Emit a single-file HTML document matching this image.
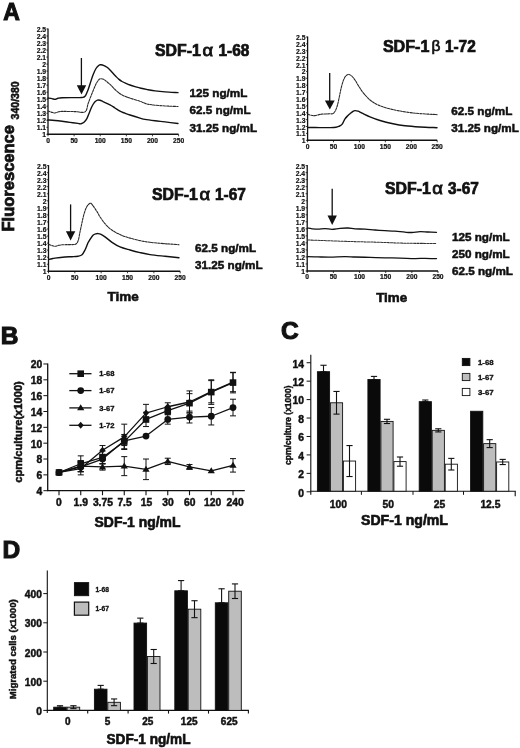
<!DOCTYPE html>
<html><head><meta charset="utf-8"><style>
html,body{margin:0;padding:0;background:#fff;overflow:hidden;width:520px;height:748px;}
svg{display:block;filter:blur(0.3px);}
text{font-family:"Liberation Sans", sans-serif;}
</style></head><body>
<svg width="520" height="748" viewBox="0 0 520 748">
<rect width="520" height="748" fill="#fff"/>
<text x="3.20" y="19.60" font-size="24.5" font-weight="bold" text-anchor="start" textLength="16.60" lengthAdjust="spacingAndGlyphs" fill="#111"  stroke="#111" stroke-width="1.10">A</text>
<line x1="48.00" y1="28.50" x2="48.00" y2="134.80" stroke="#111" stroke-width="1.3" />
<line x1="47.50" y1="134.30" x2="178.60" y2="134.30" stroke="#111" stroke-width="1.6" />
<line x1="46.40" y1="134.30" x2="48.00" y2="134.30" stroke="#111" stroke-width="0.8" />
<text x="46.10" y="137.30" font-size="6.8" font-weight="bold" text-anchor="end" fill="#111"  stroke="#111" stroke-width="0.20">1</text>
<line x1="46.40" y1="127.28" x2="48.00" y2="127.28" stroke="#111" stroke-width="0.8" />
<text x="46.10" y="130.28" font-size="6.8" font-weight="bold" text-anchor="end" fill="#111"  stroke="#111" stroke-width="0.20">1.1</text>
<line x1="46.40" y1="120.26" x2="48.00" y2="120.26" stroke="#111" stroke-width="0.8" />
<text x="46.10" y="123.26" font-size="6.8" font-weight="bold" text-anchor="end" fill="#111"  stroke="#111" stroke-width="0.20">1.2</text>
<line x1="46.40" y1="113.24" x2="48.00" y2="113.24" stroke="#111" stroke-width="0.8" />
<text x="46.10" y="116.24" font-size="6.8" font-weight="bold" text-anchor="end" fill="#111"  stroke="#111" stroke-width="0.20">1.3</text>
<line x1="46.40" y1="106.22" x2="48.00" y2="106.22" stroke="#111" stroke-width="0.8" />
<text x="46.10" y="109.22" font-size="6.8" font-weight="bold" text-anchor="end" fill="#111"  stroke="#111" stroke-width="0.20">1.4</text>
<line x1="46.40" y1="99.20" x2="48.00" y2="99.20" stroke="#111" stroke-width="0.8" />
<text x="46.10" y="102.20" font-size="6.8" font-weight="bold" text-anchor="end" fill="#111"  stroke="#111" stroke-width="0.20">1.5</text>
<line x1="46.40" y1="92.18" x2="48.00" y2="92.18" stroke="#111" stroke-width="0.8" />
<text x="46.10" y="95.18" font-size="6.8" font-weight="bold" text-anchor="end" fill="#111"  stroke="#111" stroke-width="0.20">1.6</text>
<line x1="46.40" y1="85.16" x2="48.00" y2="85.16" stroke="#111" stroke-width="0.8" />
<text x="46.10" y="88.16" font-size="6.8" font-weight="bold" text-anchor="end" fill="#111"  stroke="#111" stroke-width="0.20">1.7</text>
<line x1="46.40" y1="78.14" x2="48.00" y2="78.14" stroke="#111" stroke-width="0.8" />
<text x="46.10" y="81.14" font-size="6.8" font-weight="bold" text-anchor="end" fill="#111"  stroke="#111" stroke-width="0.20">1.8</text>
<line x1="46.40" y1="71.12" x2="48.00" y2="71.12" stroke="#111" stroke-width="0.8" />
<text x="46.10" y="74.12" font-size="6.8" font-weight="bold" text-anchor="end" fill="#111"  stroke="#111" stroke-width="0.20">1.9</text>
<line x1="46.40" y1="64.10" x2="48.00" y2="64.10" stroke="#111" stroke-width="0.8" />
<text x="46.10" y="67.10" font-size="6.8" font-weight="bold" text-anchor="end" fill="#111"  stroke="#111" stroke-width="0.20">2</text>
<line x1="46.40" y1="57.08" x2="48.00" y2="57.08" stroke="#111" stroke-width="0.8" />
<text x="46.10" y="60.08" font-size="6.8" font-weight="bold" text-anchor="end" fill="#111"  stroke="#111" stroke-width="0.20">2.1</text>
<line x1="46.40" y1="50.06" x2="48.00" y2="50.06" stroke="#111" stroke-width="0.8" />
<text x="46.10" y="53.06" font-size="6.8" font-weight="bold" text-anchor="end" fill="#111"  stroke="#111" stroke-width="0.20">2.2</text>
<line x1="46.40" y1="43.04" x2="48.00" y2="43.04" stroke="#111" stroke-width="0.8" />
<text x="46.10" y="46.04" font-size="6.8" font-weight="bold" text-anchor="end" fill="#111"  stroke="#111" stroke-width="0.20">2.3</text>
<line x1="46.40" y1="36.02" x2="48.00" y2="36.02" stroke="#111" stroke-width="0.8" />
<text x="46.10" y="39.02" font-size="6.8" font-weight="bold" text-anchor="end" fill="#111"  stroke="#111" stroke-width="0.20">2.4</text>
<line x1="46.40" y1="29.00" x2="48.00" y2="29.00" stroke="#111" stroke-width="0.8" />
<text x="46.10" y="32.00" font-size="6.8" font-weight="bold" text-anchor="end" fill="#111"  stroke="#111" stroke-width="0.20">2.5</text>
<line x1="48.00" y1="134.30" x2="48.00" y2="136.30" stroke="#111" stroke-width="0.8" />
<text x="48.00" y="142.60" font-size="6.7" font-weight="bold" text-anchor="middle" fill="#111"  stroke="#111" stroke-width="0.22">0</text>
<line x1="74.12" y1="134.30" x2="74.12" y2="136.30" stroke="#111" stroke-width="0.8" />
<text x="74.12" y="142.60" font-size="6.7" font-weight="bold" text-anchor="middle" fill="#111"  stroke="#111" stroke-width="0.22">50</text>
<line x1="100.24" y1="134.30" x2="100.24" y2="136.30" stroke="#111" stroke-width="0.8" />
<text x="100.24" y="142.60" font-size="6.7" font-weight="bold" text-anchor="middle" fill="#111"  stroke="#111" stroke-width="0.22">100</text>
<line x1="126.36" y1="134.30" x2="126.36" y2="136.30" stroke="#111" stroke-width="0.8" />
<text x="126.36" y="142.60" font-size="6.7" font-weight="bold" text-anchor="middle" fill="#111"  stroke="#111" stroke-width="0.22">150</text>
<line x1="152.48" y1="134.30" x2="152.48" y2="136.30" stroke="#111" stroke-width="0.8" />
<text x="152.48" y="142.60" font-size="6.7" font-weight="bold" text-anchor="middle" fill="#111"  stroke="#111" stroke-width="0.22">200</text>
<line x1="178.60" y1="134.30" x2="178.60" y2="136.30" stroke="#111" stroke-width="0.8" />
<text x="178.60" y="142.60" font-size="6.7" font-weight="bold" text-anchor="middle" fill="#111"  stroke="#111" stroke-width="0.22">250</text>
<line x1="307.60" y1="36.50" x2="307.60" y2="140.80" stroke="#111" stroke-width="1.3" />
<line x1="307.10" y1="140.30" x2="437.20" y2="140.30" stroke="#111" stroke-width="1.6" />
<line x1="306.00" y1="140.30" x2="307.60" y2="140.30" stroke="#111" stroke-width="0.8" />
<text x="305.50" y="143.30" font-size="6.8" font-weight="bold" text-anchor="end" fill="#111"  stroke="#111" stroke-width="0.20">1</text>
<line x1="306.00" y1="133.41" x2="307.60" y2="133.41" stroke="#111" stroke-width="0.8" />
<text x="305.50" y="136.41" font-size="6.8" font-weight="bold" text-anchor="end" fill="#111"  stroke="#111" stroke-width="0.20">1.1</text>
<line x1="306.00" y1="126.53" x2="307.60" y2="126.53" stroke="#111" stroke-width="0.8" />
<text x="305.50" y="129.53" font-size="6.8" font-weight="bold" text-anchor="end" fill="#111"  stroke="#111" stroke-width="0.20">1.2</text>
<line x1="306.00" y1="119.64" x2="307.60" y2="119.64" stroke="#111" stroke-width="0.8" />
<text x="305.50" y="122.64" font-size="6.8" font-weight="bold" text-anchor="end" fill="#111"  stroke="#111" stroke-width="0.20">1.3</text>
<line x1="306.00" y1="112.75" x2="307.60" y2="112.75" stroke="#111" stroke-width="0.8" />
<text x="305.50" y="115.75" font-size="6.8" font-weight="bold" text-anchor="end" fill="#111"  stroke="#111" stroke-width="0.20">1.4</text>
<line x1="306.00" y1="105.87" x2="307.60" y2="105.87" stroke="#111" stroke-width="0.8" />
<text x="305.50" y="108.87" font-size="6.8" font-weight="bold" text-anchor="end" fill="#111"  stroke="#111" stroke-width="0.20">1.5</text>
<line x1="306.00" y1="98.98" x2="307.60" y2="98.98" stroke="#111" stroke-width="0.8" />
<text x="305.50" y="101.98" font-size="6.8" font-weight="bold" text-anchor="end" fill="#111"  stroke="#111" stroke-width="0.20">1.6</text>
<line x1="306.00" y1="92.09" x2="307.60" y2="92.09" stroke="#111" stroke-width="0.8" />
<text x="305.50" y="95.09" font-size="6.8" font-weight="bold" text-anchor="end" fill="#111"  stroke="#111" stroke-width="0.20">1.7</text>
<line x1="306.00" y1="85.21" x2="307.60" y2="85.21" stroke="#111" stroke-width="0.8" />
<text x="305.50" y="88.21" font-size="6.8" font-weight="bold" text-anchor="end" fill="#111"  stroke="#111" stroke-width="0.20">1.8</text>
<line x1="306.00" y1="78.32" x2="307.60" y2="78.32" stroke="#111" stroke-width="0.8" />
<text x="305.50" y="81.32" font-size="6.8" font-weight="bold" text-anchor="end" fill="#111"  stroke="#111" stroke-width="0.20">1.9</text>
<line x1="306.00" y1="71.43" x2="307.60" y2="71.43" stroke="#111" stroke-width="0.8" />
<text x="305.50" y="74.43" font-size="6.8" font-weight="bold" text-anchor="end" fill="#111"  stroke="#111" stroke-width="0.20">2</text>
<line x1="306.00" y1="64.55" x2="307.60" y2="64.55" stroke="#111" stroke-width="0.8" />
<text x="305.50" y="67.55" font-size="6.8" font-weight="bold" text-anchor="end" fill="#111"  stroke="#111" stroke-width="0.20">2.1</text>
<line x1="306.00" y1="57.66" x2="307.60" y2="57.66" stroke="#111" stroke-width="0.8" />
<text x="305.50" y="60.66" font-size="6.8" font-weight="bold" text-anchor="end" fill="#111"  stroke="#111" stroke-width="0.20">2.2</text>
<line x1="306.00" y1="50.77" x2="307.60" y2="50.77" stroke="#111" stroke-width="0.8" />
<text x="305.50" y="53.77" font-size="6.8" font-weight="bold" text-anchor="end" fill="#111"  stroke="#111" stroke-width="0.20">2.3</text>
<line x1="306.00" y1="43.89" x2="307.60" y2="43.89" stroke="#111" stroke-width="0.8" />
<text x="305.50" y="46.89" font-size="6.8" font-weight="bold" text-anchor="end" fill="#111"  stroke="#111" stroke-width="0.20">2.4</text>
<line x1="306.00" y1="37.00" x2="307.60" y2="37.00" stroke="#111" stroke-width="0.8" />
<text x="305.50" y="40.00" font-size="6.8" font-weight="bold" text-anchor="end" fill="#111"  stroke="#111" stroke-width="0.20">2.5</text>
<line x1="307.60" y1="140.30" x2="307.60" y2="142.30" stroke="#111" stroke-width="0.8" />
<text x="307.60" y="148.70" font-size="6.7" font-weight="bold" text-anchor="middle" fill="#111"  stroke="#111" stroke-width="0.22">0</text>
<line x1="333.52" y1="140.30" x2="333.52" y2="142.30" stroke="#111" stroke-width="0.8" />
<text x="333.52" y="148.70" font-size="6.7" font-weight="bold" text-anchor="middle" fill="#111"  stroke="#111" stroke-width="0.22">50</text>
<line x1="359.44" y1="140.30" x2="359.44" y2="142.30" stroke="#111" stroke-width="0.8" />
<text x="359.44" y="148.70" font-size="6.7" font-weight="bold" text-anchor="middle" fill="#111"  stroke="#111" stroke-width="0.22">100</text>
<line x1="385.36" y1="140.30" x2="385.36" y2="142.30" stroke="#111" stroke-width="0.8" />
<text x="385.36" y="148.70" font-size="6.7" font-weight="bold" text-anchor="middle" fill="#111"  stroke="#111" stroke-width="0.22">150</text>
<line x1="411.28" y1="140.30" x2="411.28" y2="142.30" stroke="#111" stroke-width="0.8" />
<text x="411.28" y="148.70" font-size="6.7" font-weight="bold" text-anchor="middle" fill="#111"  stroke="#111" stroke-width="0.22">200</text>
<line x1="437.20" y1="140.30" x2="437.20" y2="142.30" stroke="#111" stroke-width="0.8" />
<text x="437.20" y="148.70" font-size="6.7" font-weight="bold" text-anchor="middle" fill="#111"  stroke="#111" stroke-width="0.22">250</text>
<line x1="48.50" y1="165.10" x2="48.50" y2="271.80" stroke="#111" stroke-width="1.3" />
<line x1="48.00" y1="271.30" x2="180.20" y2="271.30" stroke="#111" stroke-width="1.6" />
<line x1="46.90" y1="271.30" x2="48.50" y2="271.30" stroke="#111" stroke-width="0.8" />
<text x="46.50" y="274.30" font-size="6.8" font-weight="bold" text-anchor="end" fill="#111"  stroke="#111" stroke-width="0.20">1</text>
<line x1="46.90" y1="264.25" x2="48.50" y2="264.25" stroke="#111" stroke-width="0.8" />
<text x="46.50" y="267.25" font-size="6.8" font-weight="bold" text-anchor="end" fill="#111"  stroke="#111" stroke-width="0.20">1.1</text>
<line x1="46.90" y1="257.21" x2="48.50" y2="257.21" stroke="#111" stroke-width="0.8" />
<text x="46.50" y="260.21" font-size="6.8" font-weight="bold" text-anchor="end" fill="#111"  stroke="#111" stroke-width="0.20">1.2</text>
<line x1="46.90" y1="250.16" x2="48.50" y2="250.16" stroke="#111" stroke-width="0.8" />
<text x="46.50" y="253.16" font-size="6.8" font-weight="bold" text-anchor="end" fill="#111"  stroke="#111" stroke-width="0.20">1.3</text>
<line x1="46.90" y1="243.11" x2="48.50" y2="243.11" stroke="#111" stroke-width="0.8" />
<text x="46.50" y="246.11" font-size="6.8" font-weight="bold" text-anchor="end" fill="#111"  stroke="#111" stroke-width="0.20">1.4</text>
<line x1="46.90" y1="236.07" x2="48.50" y2="236.07" stroke="#111" stroke-width="0.8" />
<text x="46.50" y="239.07" font-size="6.8" font-weight="bold" text-anchor="end" fill="#111"  stroke="#111" stroke-width="0.20">1.5</text>
<line x1="46.90" y1="229.02" x2="48.50" y2="229.02" stroke="#111" stroke-width="0.8" />
<text x="46.50" y="232.02" font-size="6.8" font-weight="bold" text-anchor="end" fill="#111"  stroke="#111" stroke-width="0.20">1.6</text>
<line x1="46.90" y1="221.97" x2="48.50" y2="221.97" stroke="#111" stroke-width="0.8" />
<text x="46.50" y="224.97" font-size="6.8" font-weight="bold" text-anchor="end" fill="#111"  stroke="#111" stroke-width="0.20">1.7</text>
<line x1="46.90" y1="214.93" x2="48.50" y2="214.93" stroke="#111" stroke-width="0.8" />
<text x="46.50" y="217.93" font-size="6.8" font-weight="bold" text-anchor="end" fill="#111"  stroke="#111" stroke-width="0.20">1.8</text>
<line x1="46.90" y1="207.88" x2="48.50" y2="207.88" stroke="#111" stroke-width="0.8" />
<text x="46.50" y="210.88" font-size="6.8" font-weight="bold" text-anchor="end" fill="#111"  stroke="#111" stroke-width="0.20">1.9</text>
<line x1="46.90" y1="200.83" x2="48.50" y2="200.83" stroke="#111" stroke-width="0.8" />
<text x="46.50" y="203.83" font-size="6.8" font-weight="bold" text-anchor="end" fill="#111"  stroke="#111" stroke-width="0.20">2</text>
<line x1="46.90" y1="193.79" x2="48.50" y2="193.79" stroke="#111" stroke-width="0.8" />
<text x="46.50" y="196.79" font-size="6.8" font-weight="bold" text-anchor="end" fill="#111"  stroke="#111" stroke-width="0.20">2.1</text>
<line x1="46.90" y1="186.74" x2="48.50" y2="186.74" stroke="#111" stroke-width="0.8" />
<text x="46.50" y="189.74" font-size="6.8" font-weight="bold" text-anchor="end" fill="#111"  stroke="#111" stroke-width="0.20">2.2</text>
<line x1="46.90" y1="179.69" x2="48.50" y2="179.69" stroke="#111" stroke-width="0.8" />
<text x="46.50" y="182.69" font-size="6.8" font-weight="bold" text-anchor="end" fill="#111"  stroke="#111" stroke-width="0.20">2.3</text>
<line x1="46.90" y1="172.65" x2="48.50" y2="172.65" stroke="#111" stroke-width="0.8" />
<text x="46.50" y="175.65" font-size="6.8" font-weight="bold" text-anchor="end" fill="#111"  stroke="#111" stroke-width="0.20">2.4</text>
<line x1="46.90" y1="165.60" x2="48.50" y2="165.60" stroke="#111" stroke-width="0.8" />
<text x="46.50" y="168.60" font-size="6.8" font-weight="bold" text-anchor="end" fill="#111"  stroke="#111" stroke-width="0.20">2.5</text>
<line x1="48.50" y1="271.30" x2="48.50" y2="273.30" stroke="#111" stroke-width="0.8" />
<text x="48.50" y="279.50" font-size="6.7" font-weight="bold" text-anchor="middle" fill="#111"  stroke="#111" stroke-width="0.22">0</text>
<line x1="74.84" y1="271.30" x2="74.84" y2="273.30" stroke="#111" stroke-width="0.8" />
<text x="74.84" y="279.50" font-size="6.7" font-weight="bold" text-anchor="middle" fill="#111"  stroke="#111" stroke-width="0.22">50</text>
<line x1="101.18" y1="271.30" x2="101.18" y2="273.30" stroke="#111" stroke-width="0.8" />
<text x="101.18" y="279.50" font-size="6.7" font-weight="bold" text-anchor="middle" fill="#111"  stroke="#111" stroke-width="0.22">100</text>
<line x1="127.52" y1="271.30" x2="127.52" y2="273.30" stroke="#111" stroke-width="0.8" />
<text x="127.52" y="279.50" font-size="6.7" font-weight="bold" text-anchor="middle" fill="#111"  stroke="#111" stroke-width="0.22">150</text>
<line x1="153.86" y1="271.30" x2="153.86" y2="273.30" stroke="#111" stroke-width="0.8" />
<text x="153.86" y="279.50" font-size="6.7" font-weight="bold" text-anchor="middle" fill="#111"  stroke="#111" stroke-width="0.22">200</text>
<line x1="180.20" y1="271.30" x2="180.20" y2="273.30" stroke="#111" stroke-width="0.8" />
<text x="180.20" y="279.50" font-size="6.7" font-weight="bold" text-anchor="middle" fill="#111"  stroke="#111" stroke-width="0.22">250</text>
<line x1="307.20" y1="165.10" x2="307.20" y2="271.50" stroke="#111" stroke-width="1.3" />
<line x1="306.70" y1="271.00" x2="438.00" y2="271.00" stroke="#111" stroke-width="1.6" />
<line x1="305.60" y1="271.00" x2="307.20" y2="271.00" stroke="#111" stroke-width="0.8" />
<text x="305.10" y="274.00" font-size="6.8" font-weight="bold" text-anchor="end" fill="#111"  stroke="#111" stroke-width="0.20">1</text>
<line x1="305.60" y1="263.97" x2="307.20" y2="263.97" stroke="#111" stroke-width="0.8" />
<text x="305.10" y="266.97" font-size="6.8" font-weight="bold" text-anchor="end" fill="#111"  stroke="#111" stroke-width="0.20">1.1</text>
<line x1="305.60" y1="256.95" x2="307.20" y2="256.95" stroke="#111" stroke-width="0.8" />
<text x="305.10" y="259.95" font-size="6.8" font-weight="bold" text-anchor="end" fill="#111"  stroke="#111" stroke-width="0.20">1.2</text>
<line x1="305.60" y1="249.92" x2="307.20" y2="249.92" stroke="#111" stroke-width="0.8" />
<text x="305.10" y="252.92" font-size="6.8" font-weight="bold" text-anchor="end" fill="#111"  stroke="#111" stroke-width="0.20">1.3</text>
<line x1="305.60" y1="242.89" x2="307.20" y2="242.89" stroke="#111" stroke-width="0.8" />
<text x="305.10" y="245.89" font-size="6.8" font-weight="bold" text-anchor="end" fill="#111"  stroke="#111" stroke-width="0.20">1.4</text>
<line x1="305.60" y1="235.87" x2="307.20" y2="235.87" stroke="#111" stroke-width="0.8" />
<text x="305.10" y="238.87" font-size="6.8" font-weight="bold" text-anchor="end" fill="#111"  stroke="#111" stroke-width="0.20">1.5</text>
<line x1="305.60" y1="228.84" x2="307.20" y2="228.84" stroke="#111" stroke-width="0.8" />
<text x="305.10" y="231.84" font-size="6.8" font-weight="bold" text-anchor="end" fill="#111"  stroke="#111" stroke-width="0.20">1.6</text>
<line x1="305.60" y1="221.81" x2="307.20" y2="221.81" stroke="#111" stroke-width="0.8" />
<text x="305.10" y="224.81" font-size="6.8" font-weight="bold" text-anchor="end" fill="#111"  stroke="#111" stroke-width="0.20">1.7</text>
<line x1="305.60" y1="214.79" x2="307.20" y2="214.79" stroke="#111" stroke-width="0.8" />
<text x="305.10" y="217.79" font-size="6.8" font-weight="bold" text-anchor="end" fill="#111"  stroke="#111" stroke-width="0.20">1.8</text>
<line x1="305.60" y1="207.76" x2="307.20" y2="207.76" stroke="#111" stroke-width="0.8" />
<text x="305.10" y="210.76" font-size="6.8" font-weight="bold" text-anchor="end" fill="#111"  stroke="#111" stroke-width="0.20">1.9</text>
<line x1="305.60" y1="200.73" x2="307.20" y2="200.73" stroke="#111" stroke-width="0.8" />
<text x="305.10" y="203.73" font-size="6.8" font-weight="bold" text-anchor="end" fill="#111"  stroke="#111" stroke-width="0.20">2</text>
<line x1="305.60" y1="193.71" x2="307.20" y2="193.71" stroke="#111" stroke-width="0.8" />
<text x="305.10" y="196.71" font-size="6.8" font-weight="bold" text-anchor="end" fill="#111"  stroke="#111" stroke-width="0.20">2.1</text>
<line x1="305.60" y1="186.68" x2="307.20" y2="186.68" stroke="#111" stroke-width="0.8" />
<text x="305.10" y="189.68" font-size="6.8" font-weight="bold" text-anchor="end" fill="#111"  stroke="#111" stroke-width="0.20">2.2</text>
<line x1="305.60" y1="179.65" x2="307.20" y2="179.65" stroke="#111" stroke-width="0.8" />
<text x="305.10" y="182.65" font-size="6.8" font-weight="bold" text-anchor="end" fill="#111"  stroke="#111" stroke-width="0.20">2.3</text>
<line x1="305.60" y1="172.63" x2="307.20" y2="172.63" stroke="#111" stroke-width="0.8" />
<text x="305.10" y="175.63" font-size="6.8" font-weight="bold" text-anchor="end" fill="#111"  stroke="#111" stroke-width="0.20">2.4</text>
<line x1="305.60" y1="165.60" x2="307.20" y2="165.60" stroke="#111" stroke-width="0.8" />
<text x="305.10" y="168.60" font-size="6.8" font-weight="bold" text-anchor="end" fill="#111"  stroke="#111" stroke-width="0.20">2.5</text>
<line x1="307.20" y1="271.00" x2="307.20" y2="273.00" stroke="#111" stroke-width="0.8" />
<text x="307.20" y="279.30" font-size="6.7" font-weight="bold" text-anchor="middle" fill="#111"  stroke="#111" stroke-width="0.22">0</text>
<line x1="333.36" y1="271.00" x2="333.36" y2="273.00" stroke="#111" stroke-width="0.8" />
<text x="333.36" y="279.30" font-size="6.7" font-weight="bold" text-anchor="middle" fill="#111"  stroke="#111" stroke-width="0.22">50</text>
<line x1="359.52" y1="271.00" x2="359.52" y2="273.00" stroke="#111" stroke-width="0.8" />
<text x="359.52" y="279.30" font-size="6.7" font-weight="bold" text-anchor="middle" fill="#111"  stroke="#111" stroke-width="0.22">100</text>
<line x1="385.68" y1="271.00" x2="385.68" y2="273.00" stroke="#111" stroke-width="0.8" />
<text x="385.68" y="279.30" font-size="6.7" font-weight="bold" text-anchor="middle" fill="#111"  stroke="#111" stroke-width="0.22">150</text>
<line x1="411.84" y1="271.00" x2="411.84" y2="273.00" stroke="#111" stroke-width="0.8" />
<text x="411.84" y="279.30" font-size="6.7" font-weight="bold" text-anchor="middle" fill="#111"  stroke="#111" stroke-width="0.22">200</text>
<line x1="438.00" y1="271.00" x2="438.00" y2="273.00" stroke="#111" stroke-width="0.8" />
<text x="438.00" y="279.30" font-size="6.7" font-weight="bold" text-anchor="middle" fill="#111"  stroke="#111" stroke-width="0.22">250</text>
<path d="M48.00,98.00 C48.67,98.10 50.83,98.37 52.00,98.60 C53.17,98.83 54.00,99.45 55.00,99.40 C56.00,99.35 56.83,98.58 58.00,98.30 C59.17,98.02 59.17,97.82 62.00,97.70 C64.83,97.58 71.67,97.63 75.00,97.60 C78.33,97.57 80.33,97.72 82.00,97.50 C83.67,97.28 84.00,97.55 85.00,96.30 C86.00,95.05 87.17,92.05 88.00,90.00 C88.83,87.95 89.17,86.50 90.00,84.00 C90.83,81.50 92.00,77.58 93.00,75.00 C94.00,72.42 95.00,70.13 96.00,68.50 C97.00,66.87 98.17,65.82 99.00,65.20 C99.83,64.58 100.17,64.73 101.00,64.80 C101.83,64.87 103.00,65.18 104.00,65.60 C105.00,66.02 106.00,66.57 107.00,67.30 C108.00,68.03 109.00,69.00 110.00,70.00 C111.00,71.00 112.00,72.22 113.00,73.30 C114.00,74.38 115.00,75.48 116.00,76.50 C117.00,77.52 118.00,78.57 119.00,79.40 C120.00,80.23 120.83,80.83 122.00,81.50 C123.17,82.17 124.67,82.82 126.00,83.40 C127.33,83.98 128.50,84.47 130.00,85.00 C131.50,85.53 133.17,86.05 135.00,86.60 C136.83,87.15 138.83,87.78 141.00,88.30 C143.17,88.82 145.67,89.27 148.00,89.70 C150.33,90.13 152.17,90.53 155.00,90.90 C157.83,91.27 161.17,91.62 165.00,91.90 C168.83,92.18 175.83,92.48 178.00,92.60" fill="none" stroke="#111" stroke-width="1.4" stroke-linejoin="round" stroke-linecap="round"/>
<path d="M48.00,111.00 C48.67,111.23 50.83,112.07 52.00,112.40 C53.17,112.73 54.00,113.07 55.00,113.00 C56.00,112.93 56.83,112.27 58.00,112.00 C59.17,111.73 59.17,111.47 62.00,111.40 C64.83,111.33 71.17,111.52 75.00,111.60 C78.83,111.68 82.83,113.17 85.00,111.90 C87.17,110.63 87.17,106.23 88.00,104.00 C88.83,101.77 89.17,100.67 90.00,98.50 C90.83,96.33 92.00,93.42 93.00,91.00 C94.00,88.58 95.00,85.92 96.00,84.00 C97.00,82.08 98.17,80.37 99.00,79.50 C99.83,78.63 100.17,78.78 101.00,78.80 C101.83,78.82 102.50,78.67 104.00,79.60 C105.50,80.53 108.17,82.75 110.00,84.40 C111.83,86.05 113.33,87.95 115.00,89.50 C116.67,91.05 118.33,92.57 120.00,93.70 C121.67,94.83 123.33,95.57 125.00,96.30 C126.67,97.03 127.50,97.27 130.00,98.10 C132.50,98.93 137.33,100.37 140.00,101.30 C142.67,102.23 144.00,103.12 146.00,103.70 C148.00,104.28 149.67,104.48 152.00,104.80 C154.33,105.12 157.00,105.37 160.00,105.60 C163.00,105.83 167.00,106.05 170.00,106.20 C173.00,106.35 176.67,106.45 178.00,106.50" fill="none" stroke="#2a2a2a" stroke-width="1.1" stroke-linejoin="round" stroke-linecap="round" stroke-dasharray="2.2,1.1"/>
<path d="M48.00,120.00 C49.17,120.08 52.67,120.28 55.00,120.50 C57.33,120.72 59.50,120.98 62.00,121.30 C64.50,121.62 67.33,122.05 70.00,122.40 C72.67,122.75 76.17,123.17 78.00,123.40 C79.83,123.63 80.00,123.98 81.00,123.80 C82.00,123.62 83.00,123.22 84.00,122.30 C85.00,121.38 86.17,119.77 87.00,118.30 C87.83,116.83 88.33,115.13 89.00,113.50 C89.67,111.87 90.33,110.00 91.00,108.50 C91.67,107.00 92.33,105.63 93.00,104.50 C93.67,103.37 94.25,102.43 95.00,101.70 C95.75,100.97 96.67,100.33 97.50,100.10 C98.33,99.87 99.08,100.05 100.00,100.30 C100.92,100.55 101.33,100.85 103.00,101.60 C104.67,102.35 108.00,103.73 110.00,104.80 C112.00,105.87 113.33,106.93 115.00,108.00 C116.67,109.07 118.33,110.33 120.00,111.20 C121.67,112.07 123.33,112.57 125.00,113.20 C126.67,113.83 127.50,114.18 130.00,115.00 C132.50,115.82 137.50,117.37 140.00,118.10 C142.50,118.83 142.50,118.95 145.00,119.40 C147.50,119.85 151.67,120.38 155.00,120.80 C158.33,121.22 161.17,121.45 165.00,121.90 C168.83,122.35 175.83,123.23 178.00,123.50" fill="none" stroke="#111" stroke-width="1.4" stroke-linejoin="round" stroke-linecap="round"/>
<line x1="81.40" y1="58.00" x2="81.40" y2="86.50" stroke="#111" stroke-width="1.3" />
<path d="M76.80,85.20 L86.20,85.20 L81.50,94.40 Z" fill="#111"/>
<text x="155.00" y="55.80" font-size="16" font-weight="bold" text-anchor="start" textLength="45.80" lengthAdjust="spacingAndGlyphs" fill="#111"  stroke="#111" stroke-width="0.72">SDF-1</text>
<text x="202.60" y="55.80" font-size="17.0" font-weight="normal" text-anchor="start" textLength="10.60" lengthAdjust="spacingAndGlyphs" font-family='"Liberation Serif", serif' fill="#111"  stroke="#111" stroke-width="0.85">α</text>
<text x="218.50" y="55.80" font-size="16" font-weight="bold" text-anchor="start" textLength="30.80" lengthAdjust="spacingAndGlyphs" fill="#111"  stroke="#111" stroke-width="0.72">1-68</text>
<text x="189.60" y="96.90" font-size="11.7" font-weight="bold" text-anchor="start" fill="#111"  stroke="#111" stroke-width="0.53">125 ng/mL</text>
<text x="189.60" y="113.80" font-size="11.7" font-weight="bold" text-anchor="start" fill="#111"  stroke="#111" stroke-width="0.53">62.5 ng/mL</text>
<text x="189.60" y="131.50" font-size="11.7" font-weight="bold" text-anchor="start" fill="#111"  stroke="#111" stroke-width="0.53">31.25 ng/mL</text>
<path d="M308.00,114.40 C308.50,114.55 309.83,115.10 311.00,115.30 C312.17,115.50 313.67,115.72 315.00,115.60 C316.33,115.48 317.83,114.85 319.00,114.60 C320.17,114.35 320.17,114.23 322.00,114.10 C323.83,113.97 328.17,113.88 330.00,113.80 C331.83,113.72 332.08,114.15 333.00,113.60 C333.92,113.05 334.75,111.93 335.50,110.50 C336.25,109.07 336.83,107.42 337.50,105.00 C338.17,102.58 338.92,98.72 339.50,96.00 C340.08,93.28 340.42,91.12 341.00,88.70 C341.58,86.28 342.33,83.45 343.00,81.50 C343.67,79.55 344.33,78.08 345.00,77.00 C345.67,75.92 346.33,75.43 347.00,75.00 C347.67,74.57 348.17,74.18 349.00,74.40 C349.83,74.62 351.00,75.37 352.00,76.30 C353.00,77.23 354.00,78.55 355.00,80.00 C356.00,81.45 356.83,83.13 358.00,85.00 C359.17,86.87 360.67,89.37 362.00,91.20 C363.33,93.03 364.67,94.53 366.00,96.00 C367.33,97.47 368.67,98.87 370.00,100.00 C371.33,101.13 372.67,101.97 374.00,102.80 C375.33,103.63 376.17,104.22 378.00,105.00 C379.83,105.78 382.67,106.77 385.00,107.50 C387.33,108.23 389.50,108.82 392.00,109.40 C394.50,109.98 397.00,110.47 400.00,111.00 C403.00,111.53 406.67,112.17 410.00,112.60 C413.33,113.03 415.50,113.27 420.00,113.60 C424.50,113.93 434.17,114.43 437.00,114.60" fill="none" stroke="#2a2a2a" stroke-width="1.1" stroke-linejoin="round" stroke-linecap="round" stroke-dasharray="2.2,1.1"/>
<path d="M308.00,127.50 C310.00,127.52 316.33,127.58 320.00,127.60 C323.67,127.62 327.33,127.65 330.00,127.60 C332.67,127.55 334.50,127.52 336.00,127.30 C337.50,127.08 338.00,126.78 339.00,126.30 C340.00,125.82 341.00,125.65 342.00,124.40 C343.00,123.15 344.00,120.28 345.00,118.80 C346.00,117.32 347.17,116.35 348.00,115.50 C348.83,114.65 349.17,114.40 350.00,113.70 C350.83,113.00 352.17,111.82 353.00,111.30 C353.83,110.78 354.17,110.62 355.00,110.60 C355.83,110.58 356.83,110.78 358.00,111.20 C359.17,111.62 360.00,112.17 362.00,113.10 C364.00,114.03 367.00,115.57 370.00,116.80 C373.00,118.03 376.17,119.33 380.00,120.50 C383.83,121.67 388.83,122.92 393.00,123.80 C397.17,124.68 400.50,125.27 405.00,125.80 C409.50,126.33 414.67,126.68 420.00,127.00 C425.33,127.32 434.17,127.58 437.00,127.70" fill="none" stroke="#111" stroke-width="1.4" stroke-linejoin="round" stroke-linecap="round"/>
<line x1="329.70" y1="73.00" x2="329.70" y2="101.50" stroke="#111" stroke-width="1.3" />
<path d="M324.90,100.60 L334.70,100.60 L329.80,109.40 Z" fill="#111"/>
<text x="382.90" y="51.60" font-size="16" font-weight="bold" text-anchor="start" textLength="46.50" lengthAdjust="spacingAndGlyphs" fill="#111"  stroke="#111" stroke-width="0.72">SDF-1</text>
<text x="431.60" y="51.20" font-size="15.5" font-weight="normal" text-anchor="start" font-family='"Liberation Serif", serif' fill="#111"  stroke="#111" stroke-width="0.70">β</text>
<text x="444.90" y="51.60" font-size="16" font-weight="bold" text-anchor="start" textLength="30.80" lengthAdjust="spacingAndGlyphs" fill="#111"  stroke="#111" stroke-width="0.72">1-72</text>
<text x="451.30" y="114.75" font-size="11.7" font-weight="bold" text-anchor="start" fill="#111"  stroke="#111" stroke-width="0.53">62.5 ng/mL</text>
<text x="451.30" y="132.40" font-size="11.7" font-weight="bold" text-anchor="start" fill="#111"  stroke="#111" stroke-width="0.53">31.25 ng/mL</text>
<path d="M49.00,244.40 C49.50,244.60 51.00,245.28 52.00,245.60 C53.00,245.92 54.00,246.32 55.00,246.30 C56.00,246.28 56.83,245.75 58.00,245.50 C59.17,245.25 60.00,244.95 62.00,244.80 C64.00,244.65 67.83,244.67 70.00,244.60 C72.17,244.53 73.83,244.67 75.00,244.40 C76.17,244.13 76.42,243.82 77.00,243.00 C77.58,242.18 78.00,241.33 78.50,239.50 C79.00,237.67 79.50,234.42 80.00,232.00 C80.50,229.58 81.00,227.33 81.50,225.00 C82.00,222.67 82.50,220.08 83.00,218.00 C83.50,215.92 84.00,214.12 84.50,212.50 C85.00,210.88 85.42,209.55 86.00,208.30 C86.58,207.05 87.23,205.87 88.00,205.00 C88.77,204.13 89.77,202.97 90.60,203.10 C91.43,203.23 92.27,204.88 93.00,205.80 C93.73,206.72 94.17,207.37 95.00,208.60 C95.83,209.83 97.17,211.82 98.00,213.20 C98.83,214.58 98.83,215.15 100.00,216.90 C101.17,218.65 103.33,221.73 105.00,223.70 C106.67,225.67 108.33,227.32 110.00,228.70 C111.67,230.08 113.33,231.03 115.00,232.00 C116.67,232.97 118.33,233.73 120.00,234.50 C121.67,235.27 123.33,236.00 125.00,236.60 C126.67,237.20 127.50,237.43 130.00,238.10 C132.50,238.77 136.67,239.90 140.00,240.60 C143.33,241.30 145.83,241.78 150.00,242.30 C154.17,242.82 160.17,243.30 165.00,243.70 C169.83,244.10 176.67,244.53 179.00,244.70" fill="none" stroke="#2a2a2a" stroke-width="1.1" stroke-linejoin="round" stroke-linecap="round" stroke-dasharray="2.2,1.1"/>
<path d="M49.00,259.40 C49.50,259.28 51.00,258.92 52.00,258.70 C53.00,258.48 52.83,258.38 55.00,258.10 C57.17,257.82 62.17,257.23 65.00,257.00 C67.83,256.77 69.83,256.83 72.00,256.70 C74.17,256.57 76.33,256.52 78.00,256.20 C79.67,255.88 80.83,255.83 82.00,254.80 C83.17,253.77 84.00,252.00 85.00,250.00 C86.00,248.00 87.17,244.55 88.00,242.80 C88.83,241.05 89.17,240.75 90.00,239.50 C90.83,238.25 92.00,236.25 93.00,235.30 C94.00,234.35 95.17,234.08 96.00,233.80 C96.83,233.52 97.17,233.50 98.00,233.60 C98.83,233.70 99.83,233.85 101.00,234.40 C102.17,234.95 103.17,235.58 105.00,236.90 C106.83,238.22 109.50,240.63 112.00,242.30 C114.50,243.97 117.00,245.62 120.00,246.90 C123.00,248.18 126.67,249.05 130.00,250.00 C133.33,250.95 136.67,251.83 140.00,252.60 C143.33,253.37 145.83,253.98 150.00,254.60 C154.17,255.22 160.17,255.78 165.00,256.30 C169.83,256.82 176.67,257.47 179.00,257.70" fill="none" stroke="#111" stroke-width="1.4" stroke-linejoin="round" stroke-linecap="round"/>
<line x1="70.60" y1="204.40" x2="70.60" y2="232.00" stroke="#111" stroke-width="1.3" />
<path d="M65.90,231.20 L75.30,231.20 L70.60,240.60 Z" fill="#111"/>
<text x="152.00" y="199.60" font-size="16" font-weight="bold" text-anchor="start" textLength="45.80" lengthAdjust="spacingAndGlyphs" fill="#111"  stroke="#111" stroke-width="0.72">SDF-1</text>
<text x="199.50" y="199.60" font-size="17.0" font-weight="normal" text-anchor="start" textLength="10.60" lengthAdjust="spacingAndGlyphs" font-family='"Liberation Serif", serif' fill="#111"  stroke="#111" stroke-width="0.85">α</text>
<text x="215.00" y="199.60" font-size="16" font-weight="bold" text-anchor="start" textLength="30.80" lengthAdjust="spacingAndGlyphs" fill="#111"  stroke="#111" stroke-width="0.72">1-67</text>
<text x="195.00" y="252.30" font-size="11.7" font-weight="bold" text-anchor="start" fill="#111"  stroke="#111" stroke-width="0.53">62.5 ng/mL</text>
<text x="195.00" y="268.75" font-size="11.7" font-weight="bold" text-anchor="start" fill="#111"  stroke="#111" stroke-width="0.53">31.25 ng/mL</text>
<path d="M307.50,228.10 C308.25,228.22 310.25,228.62 312.00,228.80 C313.75,228.98 315.83,229.23 318.00,229.20 C320.17,229.17 322.67,228.58 325.00,228.60 C327.33,228.62 329.50,229.35 332.00,229.30 C334.50,229.25 337.33,228.52 340.00,228.30 C342.67,228.08 345.50,227.92 348.00,228.00 C350.50,228.08 352.17,228.60 355.00,228.80 C357.83,229.00 361.67,229.00 365.00,229.20 C368.33,229.40 371.67,229.77 375.00,230.00 C378.33,230.23 381.67,230.40 385.00,230.60 C388.33,230.80 391.67,230.93 395.00,231.20 C398.33,231.47 402.17,231.98 405.00,232.20 C407.83,232.42 409.50,232.60 412.00,232.50 C414.50,232.40 417.33,231.68 420.00,231.60 C422.67,231.52 425.25,231.88 428.00,232.00 C430.75,232.12 435.08,232.25 436.50,232.30" fill="none" stroke="#111" stroke-width="1.3" stroke-linejoin="round" stroke-linecap="round"/>
<path d="M308.00,240.00 C310.00,240.07 315.50,240.23 320.00,240.40 C324.50,240.57 330.00,240.82 335.00,241.00 C340.00,241.18 345.00,241.35 350.00,241.50 C355.00,241.65 360.00,241.77 365.00,241.90 C370.00,242.03 375.00,242.13 380.00,242.30 C385.00,242.47 390.00,242.73 395.00,242.90 C400.00,243.07 405.00,243.22 410.00,243.30 C415.00,243.38 420.58,243.35 425.00,243.40 C429.42,243.45 434.58,243.57 436.50,243.60" fill="none" stroke="#333" stroke-width="1.05" stroke-linejoin="round" stroke-linecap="round" stroke-dasharray="2.2,1.1"/>
<path d="M307.50,256.60 C309.25,256.65 314.25,256.82 318.00,256.90 C321.75,256.98 325.50,257.15 330.00,257.10 C334.50,257.05 340.83,256.62 345.00,256.60 C349.17,256.58 350.83,256.87 355.00,257.00 C359.17,257.13 365.00,257.27 370.00,257.40 C375.00,257.53 380.00,257.68 385.00,257.80 C390.00,257.92 395.00,257.97 400.00,258.10 C405.00,258.23 410.83,258.57 415.00,258.60 C419.17,258.63 421.42,258.30 425.00,258.30 C428.58,258.30 434.58,258.55 436.50,258.60" fill="none" stroke="#111" stroke-width="1.3" stroke-linejoin="round" stroke-linecap="round"/>
<line x1="332.20" y1="188.80" x2="332.20" y2="216.50" stroke="#111" stroke-width="1.3" />
<path d="M327.50,215.60 L336.90,215.60 L332.20,225.00 Z" fill="#111"/>
<text x="385.00" y="194.20" font-size="16" font-weight="bold" text-anchor="start" textLength="45.80" lengthAdjust="spacingAndGlyphs" fill="#111"  stroke="#111" stroke-width="0.72">SDF-1</text>
<text x="432.30" y="194.20" font-size="17.0" font-weight="normal" text-anchor="start" textLength="10.60" lengthAdjust="spacingAndGlyphs" font-family='"Liberation Serif", serif' fill="#111"  stroke="#111" stroke-width="0.85">α</text>
<text x="448.00" y="194.20" font-size="16" font-weight="bold" text-anchor="start" textLength="30.80" lengthAdjust="spacingAndGlyphs" fill="#111"  stroke="#111" stroke-width="0.72">3-67</text>
<text x="451.90" y="241.10" font-size="11.7" font-weight="bold" text-anchor="start" fill="#111"  stroke="#111" stroke-width="0.53">125 ng/mL</text>
<text x="451.90" y="258.40" font-size="11.7" font-weight="bold" text-anchor="start" fill="#111"  stroke="#111" stroke-width="0.53">250 ng/mL</text>
<text x="451.90" y="275.00" font-size="11.7" font-weight="bold" text-anchor="start" fill="#111"  stroke="#111" stroke-width="0.53">62.5 ng/mL</text>
<text transform="translate(14.3,231.5) rotate(-90)" font-size="16.8" font-weight="bold" fill="#111" stroke="#111" stroke-width="0.84" textLength="106.5" lengthAdjust="spacingAndGlyphs">Fluorescence</text>
<text transform="translate(19.2,119.4) rotate(-90)" font-size="10.6" font-weight="bold" fill="#111" stroke="#111" stroke-width="0.53" textLength="38" lengthAdjust="spacingAndGlyphs">340/380</text>
<text x="107.60" y="301.20" font-size="13.6" font-weight="bold" text-anchor="start" textLength="31.20" lengthAdjust="spacingAndGlyphs" fill="#111"  stroke="#111" stroke-width="0.61">Time</text>
<text x="376.20" y="301.70" font-size="13.6" font-weight="bold" text-anchor="start" textLength="31.00" lengthAdjust="spacingAndGlyphs" fill="#111"  stroke="#111" stroke-width="0.61">Time</text>
<text x="0.80" y="343.80" font-size="24.5" font-weight="bold" text-anchor="start" fill="#111"  stroke="#111" stroke-width="1.10">B</text>
<line x1="47.70" y1="363.50" x2="47.70" y2="491.00" stroke="#111" stroke-width="1.3" />
<line x1="47.00" y1="490.60" x2="244.80" y2="490.60" stroke="#111" stroke-width="1.3" />
<line x1="43.40" y1="490.70" x2="47.70" y2="490.70" stroke="#111" stroke-width="1.0" />
<text x="42.20" y="495.10" font-size="10.3" font-weight="bold" text-anchor="end" fill="#111"  stroke="#111" stroke-width="0.46">4</text>
<line x1="43.40" y1="474.86" x2="47.70" y2="474.86" stroke="#111" stroke-width="1.0" />
<text x="42.20" y="479.26" font-size="10.3" font-weight="bold" text-anchor="end" fill="#111"  stroke="#111" stroke-width="0.46">6</text>
<line x1="43.40" y1="459.02" x2="47.70" y2="459.02" stroke="#111" stroke-width="1.0" />
<text x="42.20" y="463.42" font-size="10.3" font-weight="bold" text-anchor="end" fill="#111"  stroke="#111" stroke-width="0.46">8</text>
<line x1="43.40" y1="443.18" x2="47.70" y2="443.18" stroke="#111" stroke-width="1.0" />
<text x="42.20" y="447.58" font-size="10.3" font-weight="bold" text-anchor="end" fill="#111"  stroke="#111" stroke-width="0.46">10</text>
<line x1="43.40" y1="427.34" x2="47.70" y2="427.34" stroke="#111" stroke-width="1.0" />
<text x="42.20" y="431.74" font-size="10.3" font-weight="bold" text-anchor="end" fill="#111"  stroke="#111" stroke-width="0.46">12</text>
<line x1="43.40" y1="411.50" x2="47.70" y2="411.50" stroke="#111" stroke-width="1.0" />
<text x="42.20" y="415.90" font-size="10.3" font-weight="bold" text-anchor="end" fill="#111"  stroke="#111" stroke-width="0.46">14</text>
<line x1="43.40" y1="395.66" x2="47.70" y2="395.66" stroke="#111" stroke-width="1.0" />
<text x="42.20" y="400.06" font-size="10.3" font-weight="bold" text-anchor="end" fill="#111"  stroke="#111" stroke-width="0.46">16</text>
<line x1="43.40" y1="379.82" x2="47.70" y2="379.82" stroke="#111" stroke-width="1.0" />
<text x="42.20" y="384.22" font-size="10.3" font-weight="bold" text-anchor="end" fill="#111"  stroke="#111" stroke-width="0.46">18</text>
<line x1="43.40" y1="363.98" x2="47.70" y2="363.98" stroke="#111" stroke-width="1.0" />
<text x="42.20" y="368.38" font-size="10.3" font-weight="bold" text-anchor="end" fill="#111"  stroke="#111" stroke-width="0.46">20</text>
<line x1="59.00" y1="490.60" x2="59.00" y2="495.20" stroke="#111" stroke-width="1.1" />
<text x="58.80" y="506.40" font-size="10.3" font-weight="bold" text-anchor="middle" fill="#111"  stroke="#111" stroke-width="0.46">0</text>
<line x1="80.75" y1="490.60" x2="80.75" y2="495.20" stroke="#111" stroke-width="1.1" />
<text x="80.75" y="506.40" font-size="10.3" font-weight="bold" text-anchor="middle" fill="#111"  stroke="#111" stroke-width="0.46">1.9</text>
<line x1="102.50" y1="490.60" x2="102.50" y2="495.20" stroke="#111" stroke-width="1.1" />
<text x="102.90" y="506.40" font-size="10.3" font-weight="bold" text-anchor="middle" fill="#111"  stroke="#111" stroke-width="0.46">3.75</text>
<line x1="124.25" y1="490.60" x2="124.25" y2="495.20" stroke="#111" stroke-width="1.1" />
<text x="124.55" y="506.40" font-size="10.3" font-weight="bold" text-anchor="middle" fill="#111"  stroke="#111" stroke-width="0.46">7.5</text>
<line x1="146.00" y1="490.60" x2="146.00" y2="495.20" stroke="#111" stroke-width="1.1" />
<text x="146.50" y="506.40" font-size="10.3" font-weight="bold" text-anchor="middle" fill="#111"  stroke="#111" stroke-width="0.46">15</text>
<line x1="167.75" y1="490.60" x2="167.75" y2="495.20" stroke="#111" stroke-width="1.1" />
<text x="167.95" y="506.40" font-size="10.3" font-weight="bold" text-anchor="middle" fill="#111"  stroke="#111" stroke-width="0.46">30</text>
<line x1="189.50" y1="490.60" x2="189.50" y2="495.20" stroke="#111" stroke-width="1.1" />
<text x="189.80" y="506.40" font-size="10.3" font-weight="bold" text-anchor="middle" fill="#111"  stroke="#111" stroke-width="0.46">60</text>
<line x1="211.25" y1="490.60" x2="211.25" y2="495.20" stroke="#111" stroke-width="1.1" />
<text x="212.55" y="506.40" font-size="10.3" font-weight="bold" text-anchor="middle" fill="#111"  stroke="#111" stroke-width="0.46">120</text>
<line x1="233.00" y1="490.60" x2="233.00" y2="495.20" stroke="#111" stroke-width="1.1" />
<text x="235.10" y="506.40" font-size="10.3" font-weight="bold" text-anchor="middle" fill="#111"  stroke="#111" stroke-width="0.46">240</text>
<text x="94.60" y="526.80" font-size="14" font-weight="bold" text-anchor="start" textLength="85.80" lengthAdjust="spacingAndGlyphs" fill="#111"  stroke="#111" stroke-width="0.63">SDF-1 ng/mL</text>
<text transform="translate(22.2,482.7) rotate(-90)" font-size="10.2" font-weight="bold" fill="#111" stroke="#111" stroke-width="0.51" textLength="101.5" lengthAdjust="spacingAndGlyphs">cpm/culture(x1000)</text>
<line x1="80.75" y1="455.85" x2="80.75" y2="471.69" stroke="#111" stroke-width="1.0" />
<line x1="77.75" y1="455.85" x2="83.75" y2="455.85" stroke="#111" stroke-width="1.0" />
<line x1="77.75" y1="471.69" x2="83.75" y2="471.69" stroke="#111" stroke-width="1.0" />
<line x1="102.50" y1="451.10" x2="102.50" y2="463.77" stroke="#111" stroke-width="1.0" />
<line x1="99.50" y1="451.10" x2="105.50" y2="451.10" stroke="#111" stroke-width="1.0" />
<line x1="99.50" y1="463.77" x2="105.50" y2="463.77" stroke="#111" stroke-width="1.0" />
<line x1="124.25" y1="434.47" x2="124.25" y2="448.72" stroke="#111" stroke-width="1.0" />
<line x1="121.25" y1="434.47" x2="127.25" y2="434.47" stroke="#111" stroke-width="1.0" />
<line x1="121.25" y1="448.72" x2="127.25" y2="448.72" stroke="#111" stroke-width="1.0" />
<line x1="146.00" y1="412.29" x2="146.00" y2="426.55" stroke="#111" stroke-width="1.0" />
<line x1="143.00" y1="412.29" x2="149.00" y2="412.29" stroke="#111" stroke-width="1.0" />
<line x1="143.00" y1="426.55" x2="149.00" y2="426.55" stroke="#111" stroke-width="1.0" />
<line x1="167.75" y1="406.75" x2="167.75" y2="414.67" stroke="#111" stroke-width="1.0" />
<line x1="164.75" y1="406.75" x2="170.75" y2="406.75" stroke="#111" stroke-width="1.0" />
<line x1="164.75" y1="414.67" x2="170.75" y2="414.67" stroke="#111" stroke-width="1.0" />
<line x1="189.50" y1="393.68" x2="189.50" y2="412.69" stroke="#111" stroke-width="1.0" />
<line x1="186.50" y1="393.68" x2="192.50" y2="393.68" stroke="#111" stroke-width="1.0" />
<line x1="186.50" y1="412.69" x2="192.50" y2="412.69" stroke="#111" stroke-width="1.0" />
<line x1="211.25" y1="379.82" x2="211.25" y2="404.37" stroke="#111" stroke-width="1.0" />
<line x1="208.25" y1="379.82" x2="214.25" y2="379.82" stroke="#111" stroke-width="1.0" />
<line x1="208.25" y1="404.37" x2="214.25" y2="404.37" stroke="#111" stroke-width="1.0" />
<line x1="233.00" y1="372.30" x2="233.00" y2="392.89" stroke="#111" stroke-width="1.0" />
<line x1="230.00" y1="372.30" x2="236.00" y2="372.30" stroke="#111" stroke-width="1.0" />
<line x1="230.00" y1="392.89" x2="236.00" y2="392.89" stroke="#111" stroke-width="1.0" />
<line x1="80.75" y1="462.19" x2="80.75" y2="471.69" stroke="#111" stroke-width="1.0" />
<line x1="77.75" y1="462.19" x2="83.75" y2="462.19" stroke="#111" stroke-width="1.0" />
<line x1="77.75" y1="471.69" x2="83.75" y2="471.69" stroke="#111" stroke-width="1.0" />
<line x1="102.50" y1="454.27" x2="102.50" y2="463.77" stroke="#111" stroke-width="1.0" />
<line x1="99.50" y1="454.27" x2="105.50" y2="454.27" stroke="#111" stroke-width="1.0" />
<line x1="99.50" y1="463.77" x2="105.50" y2="463.77" stroke="#111" stroke-width="1.0" />
<line x1="124.25" y1="436.05" x2="124.25" y2="445.56" stroke="#111" stroke-width="1.0" />
<line x1="121.25" y1="436.05" x2="127.25" y2="436.05" stroke="#111" stroke-width="1.0" />
<line x1="121.25" y1="445.56" x2="127.25" y2="445.56" stroke="#111" stroke-width="1.0" />
<line x1="167.75" y1="414.67" x2="167.75" y2="424.17" stroke="#111" stroke-width="1.0" />
<line x1="164.75" y1="414.67" x2="170.75" y2="414.67" stroke="#111" stroke-width="1.0" />
<line x1="164.75" y1="424.17" x2="170.75" y2="424.17" stroke="#111" stroke-width="1.0" />
<line x1="189.50" y1="411.10" x2="189.50" y2="422.98" stroke="#111" stroke-width="1.0" />
<line x1="186.50" y1="411.10" x2="192.50" y2="411.10" stroke="#111" stroke-width="1.0" />
<line x1="186.50" y1="422.98" x2="192.50" y2="422.98" stroke="#111" stroke-width="1.0" />
<line x1="211.25" y1="407.54" x2="211.25" y2="424.96" stroke="#111" stroke-width="1.0" />
<line x1="208.25" y1="407.54" x2="214.25" y2="407.54" stroke="#111" stroke-width="1.0" />
<line x1="208.25" y1="424.96" x2="214.25" y2="424.96" stroke="#111" stroke-width="1.0" />
<line x1="233.00" y1="399.22" x2="233.00" y2="415.86" stroke="#111" stroke-width="1.0" />
<line x1="230.00" y1="399.22" x2="236.00" y2="399.22" stroke="#111" stroke-width="1.0" />
<line x1="230.00" y1="415.86" x2="236.00" y2="415.86" stroke="#111" stroke-width="1.0" />
<line x1="80.75" y1="460.60" x2="80.75" y2="471.69" stroke="#111" stroke-width="1.0" />
<line x1="77.75" y1="460.60" x2="83.75" y2="460.60" stroke="#111" stroke-width="1.0" />
<line x1="77.75" y1="471.69" x2="83.75" y2="471.69" stroke="#111" stroke-width="1.0" />
<line x1="102.50" y1="463.77" x2="102.50" y2="470.11" stroke="#111" stroke-width="1.0" />
<line x1="99.50" y1="463.77" x2="105.50" y2="463.77" stroke="#111" stroke-width="1.0" />
<line x1="99.50" y1="470.11" x2="105.50" y2="470.11" stroke="#111" stroke-width="1.0" />
<line x1="124.25" y1="456.64" x2="124.25" y2="475.65" stroke="#111" stroke-width="1.0" />
<line x1="121.25" y1="456.64" x2="127.25" y2="456.64" stroke="#111" stroke-width="1.0" />
<line x1="121.25" y1="475.65" x2="127.25" y2="475.65" stroke="#111" stroke-width="1.0" />
<line x1="146.00" y1="459.02" x2="146.00" y2="479.61" stroke="#111" stroke-width="1.0" />
<line x1="143.00" y1="459.02" x2="149.00" y2="459.02" stroke="#111" stroke-width="1.0" />
<line x1="143.00" y1="479.61" x2="149.00" y2="479.61" stroke="#111" stroke-width="1.0" />
<line x1="167.75" y1="458.23" x2="167.75" y2="464.56" stroke="#111" stroke-width="1.0" />
<line x1="164.75" y1="458.23" x2="170.75" y2="458.23" stroke="#111" stroke-width="1.0" />
<line x1="164.75" y1="464.56" x2="170.75" y2="464.56" stroke="#111" stroke-width="1.0" />
<line x1="189.50" y1="464.56" x2="189.50" y2="469.32" stroke="#111" stroke-width="1.0" />
<line x1="186.50" y1="464.56" x2="192.50" y2="464.56" stroke="#111" stroke-width="1.0" />
<line x1="186.50" y1="469.32" x2="192.50" y2="469.32" stroke="#111" stroke-width="1.0" />
<line x1="233.00" y1="458.62" x2="233.00" y2="472.09" stroke="#111" stroke-width="1.0" />
<line x1="230.00" y1="458.62" x2="236.00" y2="458.62" stroke="#111" stroke-width="1.0" />
<line x1="230.00" y1="472.09" x2="236.00" y2="472.09" stroke="#111" stroke-width="1.0" />
<line x1="80.75" y1="462.19" x2="80.75" y2="474.86" stroke="#111" stroke-width="1.0" />
<line x1="77.75" y1="462.19" x2="83.75" y2="462.19" stroke="#111" stroke-width="1.0" />
<line x1="77.75" y1="474.86" x2="83.75" y2="474.86" stroke="#111" stroke-width="1.0" />
<line x1="102.50" y1="445.56" x2="102.50" y2="455.06" stroke="#111" stroke-width="1.0" />
<line x1="99.50" y1="445.56" x2="105.50" y2="445.56" stroke="#111" stroke-width="1.0" />
<line x1="99.50" y1="455.06" x2="105.50" y2="455.06" stroke="#111" stroke-width="1.0" />
<line x1="124.25" y1="424.17" x2="124.25" y2="449.52" stroke="#111" stroke-width="1.0" />
<line x1="121.25" y1="424.17" x2="127.25" y2="424.17" stroke="#111" stroke-width="1.0" />
<line x1="121.25" y1="449.52" x2="127.25" y2="449.52" stroke="#111" stroke-width="1.0" />
<line x1="146.00" y1="404.37" x2="146.00" y2="421.80" stroke="#111" stroke-width="1.0" />
<line x1="143.00" y1="404.37" x2="149.00" y2="404.37" stroke="#111" stroke-width="1.0" />
<line x1="143.00" y1="421.80" x2="149.00" y2="421.80" stroke="#111" stroke-width="1.0" />
<line x1="167.75" y1="402.79" x2="167.75" y2="410.71" stroke="#111" stroke-width="1.0" />
<line x1="164.75" y1="402.79" x2="170.75" y2="402.79" stroke="#111" stroke-width="1.0" />
<line x1="164.75" y1="410.71" x2="170.75" y2="410.71" stroke="#111" stroke-width="1.0" />
<line x1="189.50" y1="390.91" x2="189.50" y2="413.08" stroke="#111" stroke-width="1.0" />
<line x1="186.50" y1="390.91" x2="192.50" y2="390.91" stroke="#111" stroke-width="1.0" />
<line x1="186.50" y1="413.08" x2="192.50" y2="413.08" stroke="#111" stroke-width="1.0" />
<line x1="211.25" y1="380.61" x2="211.25" y2="402.79" stroke="#111" stroke-width="1.0" />
<line x1="208.25" y1="380.61" x2="214.25" y2="380.61" stroke="#111" stroke-width="1.0" />
<line x1="208.25" y1="402.79" x2="214.25" y2="402.79" stroke="#111" stroke-width="1.0" />
<line x1="233.00" y1="372.69" x2="233.00" y2="391.70" stroke="#111" stroke-width="1.0" />
<line x1="230.00" y1="372.69" x2="236.00" y2="372.69" stroke="#111" stroke-width="1.0" />
<line x1="230.00" y1="391.70" x2="236.00" y2="391.70" stroke="#111" stroke-width="1.0" />
<path d="M59.00,472.48 L80.75,463.77 L102.50,457.44 L124.25,441.60 L146.00,419.42 L167.75,410.71 L189.50,403.18 L211.25,392.10 L233.00,382.59" fill="none" stroke="#111" stroke-width="1.3" stroke-linejoin="round" stroke-linecap="round"/>
<path d="M59.00,472.48 L80.75,466.94 L102.50,459.02 L124.25,440.80 L146.00,436.05 L167.75,419.42 L189.50,417.04 L211.25,416.25 L233.00,407.54" fill="none" stroke="#111" stroke-width="1.3" stroke-linejoin="round" stroke-linecap="round"/>
<path d="M59.00,472.48 L80.75,466.15 L102.50,466.94 L124.25,466.15 L146.00,469.32 L167.75,461.40 L189.50,466.94 L211.25,470.90 L233.00,465.36" fill="none" stroke="#111" stroke-width="1.3" stroke-linejoin="round" stroke-linecap="round"/>
<path d="M59.00,472.48 L80.75,468.52 L102.50,450.31 L124.25,436.84 L146.00,413.08 L167.75,406.75 L189.50,402.00 L211.25,391.70 L233.00,382.20" fill="none" stroke="#111" stroke-width="1.3" stroke-linejoin="round" stroke-linecap="round"/>
<path d="M59.00,468.81 L62.60,474.93 L55.40,474.93 Z" fill="#111"/>
<path d="M80.75,462.48 L84.35,468.60 L77.15,468.60 Z" fill="#111"/>
<path d="M102.50,463.27 L106.10,469.39 L98.90,469.39 Z" fill="#111"/>
<path d="M124.25,462.48 L127.85,468.60 L120.65,468.60 Z" fill="#111"/>
<path d="M146.00,465.64 L149.60,471.76 L142.40,471.76 Z" fill="#111"/>
<path d="M167.75,457.72 L171.35,463.84 L164.15,463.84 Z" fill="#111"/>
<path d="M189.50,463.27 L193.10,469.39 L185.90,469.39 Z" fill="#111"/>
<path d="M211.25,467.23 L214.85,473.35 L207.65,473.35 Z" fill="#111"/>
<path d="M233.00,461.68 L236.60,467.80 L229.40,467.80 Z" fill="#111"/>
<circle cx="59.00" cy="472.48" r="3.4" fill="#111"/>
<circle cx="80.75" cy="466.94" r="3.4" fill="#111"/>
<circle cx="102.50" cy="459.02" r="3.4" fill="#111"/>
<circle cx="124.25" cy="440.80" r="3.4" fill="#111"/>
<circle cx="146.00" cy="436.05" r="3.4" fill="#111"/>
<circle cx="167.75" cy="419.42" r="3.4" fill="#111"/>
<circle cx="189.50" cy="417.04" r="3.4" fill="#111"/>
<circle cx="211.25" cy="416.25" r="3.4" fill="#111"/>
<circle cx="233.00" cy="407.54" r="3.4" fill="#111"/>
<path d="M59.00,468.98 L61.98,472.48 L59.00,475.98 L56.02,472.48 Z" fill="#111"/>
<path d="M80.75,465.02 L83.72,468.52 L80.75,472.02 L77.78,468.52 Z" fill="#111"/>
<path d="M102.50,446.81 L105.47,450.31 L102.50,453.81 L99.53,450.31 Z" fill="#111"/>
<path d="M124.25,433.34 L127.22,436.84 L124.25,440.34 L121.28,436.84 Z" fill="#111"/>
<path d="M146.00,409.58 L148.97,413.08 L146.00,416.58 L143.03,413.08 Z" fill="#111"/>
<path d="M167.75,403.25 L170.72,406.75 L167.75,410.25 L164.78,406.75 Z" fill="#111"/>
<path d="M189.50,398.50 L192.47,402.00 L189.50,405.50 L186.53,402.00 Z" fill="#111"/>
<path d="M211.25,388.20 L214.22,391.70 L211.25,395.20 L208.28,391.70 Z" fill="#111"/>
<path d="M233.00,378.70 L235.97,382.20 L233.00,385.70 L230.03,382.20 Z" fill="#111"/>
<rect x="55.70" y="469.18" width="6.60" height="6.60" fill="#111"/>
<rect x="77.45" y="460.47" width="6.60" height="6.60" fill="#111"/>
<rect x="99.20" y="454.14" width="6.60" height="6.60" fill="#111"/>
<rect x="120.95" y="438.30" width="6.60" height="6.60" fill="#111"/>
<rect x="142.70" y="416.12" width="6.60" height="6.60" fill="#111"/>
<rect x="164.45" y="407.41" width="6.60" height="6.60" fill="#111"/>
<rect x="186.20" y="399.88" width="6.60" height="6.60" fill="#111"/>
<rect x="207.95" y="388.80" width="6.60" height="6.60" fill="#111"/>
<rect x="229.70" y="379.29" width="6.60" height="6.60" fill="#111"/>
<line x1="69.30" y1="373.70" x2="91.50" y2="373.70" stroke="#111" stroke-width="1.3" />
<rect x="77.40" y="370.40" width="6.60" height="6.60" fill="#111"/>
<text x="99.30" y="376.30" font-size="7.6" font-weight="bold" text-anchor="start" textLength="15.20" lengthAdjust="spacingAndGlyphs" fill="#111"  stroke="#111" stroke-width="0.34">1-68</text>
<line x1="69.30" y1="390.60" x2="91.50" y2="390.60" stroke="#111" stroke-width="1.3" />
<circle cx="80.70" cy="390.60" r="3.4" fill="#111"/>
<text x="99.30" y="393.20" font-size="7.6" font-weight="bold" text-anchor="start" textLength="15.20" lengthAdjust="spacingAndGlyphs" fill="#111"  stroke="#111" stroke-width="0.34">1-67</text>
<line x1="69.30" y1="407.90" x2="91.50" y2="407.90" stroke="#111" stroke-width="1.3" />
<path d="M80.70,404.23 L84.30,410.35 L77.10,410.35 Z" fill="#111"/>
<text x="99.30" y="410.50" font-size="7.6" font-weight="bold" text-anchor="start" textLength="15.20" lengthAdjust="spacingAndGlyphs" fill="#111"  stroke="#111" stroke-width="0.34">3-67</text>
<line x1="69.30" y1="425.30" x2="91.50" y2="425.30" stroke="#111" stroke-width="1.3" />
<path d="M80.70,421.80 L83.67,425.30 L80.70,428.80 L77.73,425.30 Z" fill="#111"/>
<text x="99.30" y="427.90" font-size="7.6" font-weight="bold" text-anchor="start" textLength="15.20" lengthAdjust="spacingAndGlyphs" fill="#111"  stroke="#111" stroke-width="0.34">1-72</text>
<text x="281.00" y="339.40" font-size="24.5" font-weight="bold" text-anchor="start" fill="#111"  stroke="#111" stroke-width="1.10">C</text>
<line x1="310.80" y1="354.80" x2="310.80" y2="494.80" stroke="#111" stroke-width="1.1" />
<line x1="310.30" y1="491.20" x2="515.80" y2="491.20" stroke="#111" stroke-width="1.1" />
<line x1="306.60" y1="491.80" x2="310.80" y2="491.80" stroke="#111" stroke-width="1.0" />
<text x="304.00" y="496.60" font-size="10.3" font-weight="bold" text-anchor="end" fill="#111"  stroke="#111" stroke-width="0.46">0</text>
<line x1="306.60" y1="473.36" x2="310.80" y2="473.36" stroke="#111" stroke-width="1.0" />
<text x="304.00" y="478.16" font-size="10.3" font-weight="bold" text-anchor="end" fill="#111"  stroke="#111" stroke-width="0.46">2</text>
<line x1="306.60" y1="454.92" x2="310.80" y2="454.92" stroke="#111" stroke-width="1.0" />
<text x="304.00" y="459.72" font-size="10.3" font-weight="bold" text-anchor="end" fill="#111"  stroke="#111" stroke-width="0.46">4</text>
<line x1="306.60" y1="436.48" x2="310.80" y2="436.48" stroke="#111" stroke-width="1.0" />
<text x="304.00" y="441.28" font-size="10.3" font-weight="bold" text-anchor="end" fill="#111"  stroke="#111" stroke-width="0.46">6</text>
<line x1="306.60" y1="418.04" x2="310.80" y2="418.04" stroke="#111" stroke-width="1.0" />
<text x="304.00" y="422.84" font-size="10.3" font-weight="bold" text-anchor="end" fill="#111"  stroke="#111" stroke-width="0.46">8</text>
<line x1="306.60" y1="399.60" x2="310.80" y2="399.60" stroke="#111" stroke-width="1.0" />
<text x="304.00" y="404.40" font-size="10.3" font-weight="bold" text-anchor="end" fill="#111"  stroke="#111" stroke-width="0.46">10</text>
<line x1="306.60" y1="381.16" x2="310.80" y2="381.16" stroke="#111" stroke-width="1.0" />
<text x="304.00" y="385.96" font-size="10.3" font-weight="bold" text-anchor="end" fill="#111"  stroke="#111" stroke-width="0.46">12</text>
<line x1="306.60" y1="362.72" x2="310.80" y2="362.72" stroke="#111" stroke-width="1.0" />
<text x="304.00" y="367.52" font-size="10.3" font-weight="bold" text-anchor="end" fill="#111"  stroke="#111" stroke-width="0.46">14</text>
<line x1="361.40" y1="491.20" x2="361.40" y2="494.80" stroke="#111" stroke-width="1.0" />
<line x1="413.00" y1="491.20" x2="413.00" y2="494.80" stroke="#111" stroke-width="1.0" />
<line x1="463.50" y1="491.20" x2="463.50" y2="494.80" stroke="#111" stroke-width="1.0" />
<line x1="515.20" y1="491.20" x2="515.20" y2="496.30" stroke="#111" stroke-width="1.1" />
<rect x="317.40" y="371.71" width="12.20" height="119.49" fill="#0a0a0a" stroke="#111" stroke-width="0.9"/>
<line x1="323.50" y1="365.26" x2="323.50" y2="371.71" stroke="#111" stroke-width="1.1" />
<line x1="320.40" y1="365.26" x2="326.60" y2="365.26" stroke="#111" stroke-width="1.1" />
<line x1="320.40" y1="371.71" x2="326.60" y2="371.71" stroke="#111" stroke-width="1.1" />
<rect x="330.40" y="402.78" width="12.20" height="88.42" fill="#bdbdbd" stroke="#111" stroke-width="0.9"/>
<line x1="336.50" y1="391.44" x2="336.50" y2="414.12" stroke="#111" stroke-width="1.1" />
<line x1="333.40" y1="391.44" x2="339.60" y2="391.44" stroke="#111" stroke-width="1.1" />
<line x1="333.40" y1="414.12" x2="339.60" y2="414.12" stroke="#111" stroke-width="1.1" />
<rect x="343.40" y="461.05" width="12.20" height="30.15" fill="#ffffff" stroke="#111" stroke-width="0.9"/>
<line x1="349.50" y1="445.56" x2="349.50" y2="476.54" stroke="#111" stroke-width="1.1" />
<line x1="346.40" y1="445.56" x2="352.60" y2="445.56" stroke="#111" stroke-width="1.1" />
<line x1="346.40" y1="476.54" x2="352.60" y2="476.54" stroke="#111" stroke-width="1.1" />
<rect x="367.90" y="379.55" width="12.20" height="111.65" fill="#0a0a0a" stroke="#111" stroke-width="0.9"/>
<line x1="374.00" y1="376.41" x2="374.00" y2="379.55" stroke="#111" stroke-width="1.1" />
<line x1="370.90" y1="376.41" x2="377.10" y2="376.41" stroke="#111" stroke-width="1.1" />
<line x1="370.90" y1="379.55" x2="377.10" y2="379.55" stroke="#111" stroke-width="1.1" />
<rect x="380.90" y="421.41" width="12.20" height="69.79" fill="#bdbdbd" stroke="#111" stroke-width="0.9"/>
<line x1="387.00" y1="419.29" x2="387.00" y2="423.53" stroke="#111" stroke-width="1.1" />
<line x1="383.90" y1="419.29" x2="390.10" y2="419.29" stroke="#111" stroke-width="1.1" />
<line x1="383.90" y1="423.53" x2="390.10" y2="423.53" stroke="#111" stroke-width="1.1" />
<rect x="393.90" y="461.61" width="12.20" height="29.59" fill="#ffffff" stroke="#111" stroke-width="0.9"/>
<line x1="400.00" y1="457.00" x2="400.00" y2="466.22" stroke="#111" stroke-width="1.1" />
<line x1="396.90" y1="457.00" x2="403.10" y2="457.00" stroke="#111" stroke-width="1.1" />
<line x1="396.90" y1="466.22" x2="403.10" y2="466.22" stroke="#111" stroke-width="1.1" />
<rect x="419.20" y="401.68" width="12.20" height="89.52" fill="#0a0a0a" stroke="#111" stroke-width="0.9"/>
<line x1="425.30" y1="400.02" x2="425.30" y2="401.68" stroke="#111" stroke-width="1.1" />
<line x1="422.20" y1="400.02" x2="428.40" y2="400.02" stroke="#111" stroke-width="1.1" />
<line x1="422.20" y1="401.68" x2="428.40" y2="401.68" stroke="#111" stroke-width="1.1" />
<rect x="432.20" y="430.35" width="12.20" height="60.85" fill="#bdbdbd" stroke="#111" stroke-width="0.9"/>
<line x1="438.30" y1="428.78" x2="438.30" y2="431.92" stroke="#111" stroke-width="1.1" />
<line x1="435.20" y1="428.78" x2="441.40" y2="428.78" stroke="#111" stroke-width="1.1" />
<line x1="435.20" y1="431.92" x2="441.40" y2="431.92" stroke="#111" stroke-width="1.1" />
<rect x="445.20" y="464.19" width="12.20" height="27.01" fill="#ffffff" stroke="#111" stroke-width="0.9"/>
<line x1="451.30" y1="458.38" x2="451.30" y2="470.00" stroke="#111" stroke-width="1.1" />
<line x1="448.20" y1="458.38" x2="454.40" y2="458.38" stroke="#111" stroke-width="1.1" />
<line x1="448.20" y1="470.00" x2="454.40" y2="470.00" stroke="#111" stroke-width="1.1" />
<rect x="470.60" y="411.26" width="12.20" height="79.94" fill="#0a0a0a" stroke="#111" stroke-width="0.9"/>
<rect x="483.60" y="443.63" width="12.20" height="47.57" fill="#bdbdbd" stroke="#111" stroke-width="0.9"/>
<line x1="489.70" y1="439.66" x2="489.70" y2="447.59" stroke="#111" stroke-width="1.1" />
<line x1="486.60" y1="439.66" x2="492.80" y2="439.66" stroke="#111" stroke-width="1.1" />
<line x1="486.60" y1="447.59" x2="492.80" y2="447.59" stroke="#111" stroke-width="1.1" />
<rect x="496.60" y="461.97" width="12.20" height="29.23" fill="#ffffff" stroke="#111" stroke-width="0.9"/>
<line x1="502.70" y1="459.39" x2="502.70" y2="464.56" stroke="#111" stroke-width="1.1" />
<line x1="499.60" y1="459.39" x2="505.80" y2="459.39" stroke="#111" stroke-width="1.1" />
<line x1="499.60" y1="464.56" x2="505.80" y2="464.56" stroke="#111" stroke-width="1.1" />
<text x="338.30" y="507.50" font-size="10.3" font-weight="bold" text-anchor="middle" fill="#111"  stroke="#111" stroke-width="0.46">100</text>
<text x="388.30" y="507.50" font-size="10.3" font-weight="bold" text-anchor="middle" fill="#111"  stroke="#111" stroke-width="0.46">50</text>
<text x="439.60" y="507.50" font-size="10.3" font-weight="bold" text-anchor="middle" fill="#111"  stroke="#111" stroke-width="0.46">25</text>
<text x="490.40" y="507.50" font-size="10.3" font-weight="bold" text-anchor="middle" fill="#111"  stroke="#111" stroke-width="0.46">12.5</text>
<text x="361.00" y="524.50" font-size="14" font-weight="bold" text-anchor="start" textLength="87.00" lengthAdjust="spacingAndGlyphs" fill="#111"  stroke="#111" stroke-width="0.63">SDF-1 ng/mL</text>
<text transform="translate(291.0,465.0) rotate(-90)" font-size="8.6" font-weight="bold" fill="#111" stroke="#111" stroke-width="0.43" textLength="79.5" lengthAdjust="spacingAndGlyphs">cpm/culture (x1000)</text>
<rect x="462.30" y="358.40" width="7.60" height="7.20" fill="#0a0a0a" stroke="#111" stroke-width="0.9"/>
<text x="478.00" y="364.50" font-size="7.6" font-weight="bold" text-anchor="start" textLength="15.60" lengthAdjust="spacingAndGlyphs" fill="#111"  stroke="#111" stroke-width="0.34">1-68</text>
<rect x="462.30" y="373.40" width="7.60" height="7.20" fill="#bdbdbd" stroke="#111" stroke-width="0.9"/>
<text x="478.00" y="379.50" font-size="7.6" font-weight="bold" text-anchor="start" textLength="15.60" lengthAdjust="spacingAndGlyphs" fill="#111"  stroke="#111" stroke-width="0.34">1-67</text>
<rect x="462.30" y="388.40" width="7.60" height="7.20" fill="#ffffff" stroke="#111" stroke-width="0.9"/>
<text x="478.00" y="394.50" font-size="7.6" font-weight="bold" text-anchor="start" textLength="15.60" lengthAdjust="spacingAndGlyphs" fill="#111"  stroke="#111" stroke-width="0.34">3-67</text>
<text x="2.50" y="558.30" font-size="24.5" font-weight="bold" text-anchor="start" fill="#111"  stroke="#111" stroke-width="1.10">D</text>
<line x1="47.30" y1="570.40" x2="47.30" y2="713.00" stroke="#111" stroke-width="1.1" />
<line x1="46.80" y1="710.40" x2="248.90" y2="710.40" stroke="#111" stroke-width="1.1" />
<line x1="43.30" y1="710.40" x2="47.30" y2="710.40" stroke="#111" stroke-width="1.0" />
<text x="41.80" y="714.90" font-size="10.2" font-weight="bold" text-anchor="end" fill="#111"  stroke="#111" stroke-width="0.46">0</text>
<line x1="43.30" y1="681.20" x2="47.30" y2="681.20" stroke="#111" stroke-width="1.0" />
<text x="41.80" y="685.70" font-size="10.2" font-weight="bold" text-anchor="end" fill="#111"  stroke="#111" stroke-width="0.46">100</text>
<line x1="43.30" y1="652.00" x2="47.30" y2="652.00" stroke="#111" stroke-width="1.0" />
<text x="41.80" y="656.50" font-size="10.2" font-weight="bold" text-anchor="end" fill="#111"  stroke="#111" stroke-width="0.46">200</text>
<line x1="43.30" y1="622.80" x2="47.30" y2="622.80" stroke="#111" stroke-width="1.0" />
<text x="41.80" y="627.30" font-size="10.2" font-weight="bold" text-anchor="end" fill="#111"  stroke="#111" stroke-width="0.46">300</text>
<line x1="43.30" y1="593.60" x2="47.30" y2="593.60" stroke="#111" stroke-width="1.0" />
<text x="41.80" y="598.10" font-size="10.2" font-weight="bold" text-anchor="end" fill="#111"  stroke="#111" stroke-width="0.46">400</text>
<line x1="87.70" y1="710.40" x2="87.70" y2="713.60" stroke="#111" stroke-width="1.1" />
<line x1="128.10" y1="710.40" x2="128.10" y2="713.60" stroke="#111" stroke-width="1.1" />
<line x1="168.50" y1="710.40" x2="168.50" y2="713.60" stroke="#111" stroke-width="1.1" />
<line x1="208.50" y1="710.40" x2="208.50" y2="713.60" stroke="#111" stroke-width="1.1" />
<line x1="248.40" y1="710.40" x2="248.40" y2="713.60" stroke="#111" stroke-width="1.1" />
<rect x="53.70" y="707.19" width="12.60" height="3.21" fill="#0a0a0a" stroke="#111" stroke-width="0.9"/>
<line x1="60.00" y1="705.73" x2="60.00" y2="707.19" stroke="#111" stroke-width="1.1" />
<line x1="56.90" y1="705.73" x2="63.10" y2="705.73" stroke="#111" stroke-width="1.1" />
<line x1="56.90" y1="707.19" x2="63.10" y2="707.19" stroke="#111" stroke-width="1.1" />
<rect x="67.10" y="707.19" width="12.60" height="3.21" fill="#bdbdbd" stroke="#111" stroke-width="0.9"/>
<line x1="73.40" y1="705.73" x2="73.40" y2="708.65" stroke="#111" stroke-width="1.1" />
<line x1="70.30" y1="705.73" x2="76.50" y2="705.73" stroke="#111" stroke-width="1.1" />
<line x1="70.30" y1="708.65" x2="76.50" y2="708.65" stroke="#111" stroke-width="1.1" />
<rect x="94.40" y="689.20" width="12.60" height="21.20" fill="#0a0a0a" stroke="#111" stroke-width="0.9"/>
<line x1="100.70" y1="685.40" x2="100.70" y2="689.20" stroke="#111" stroke-width="1.1" />
<line x1="97.60" y1="685.40" x2="103.80" y2="685.40" stroke="#111" stroke-width="1.1" />
<line x1="97.60" y1="689.20" x2="103.80" y2="689.20" stroke="#111" stroke-width="1.1" />
<rect x="107.80" y="702.31" width="12.60" height="8.09" fill="#bdbdbd" stroke="#111" stroke-width="0.9"/>
<line x1="114.10" y1="698.95" x2="114.10" y2="705.67" stroke="#111" stroke-width="1.1" />
<line x1="111.00" y1="698.95" x2="117.20" y2="698.95" stroke="#111" stroke-width="1.1" />
<line x1="111.00" y1="705.67" x2="117.20" y2="705.67" stroke="#111" stroke-width="1.1" />
<rect x="134.00" y="623.09" width="12.60" height="87.31" fill="#0a0a0a" stroke="#111" stroke-width="0.9"/>
<line x1="140.30" y1="618.13" x2="140.30" y2="623.09" stroke="#111" stroke-width="1.1" />
<line x1="137.20" y1="618.13" x2="143.40" y2="618.13" stroke="#111" stroke-width="1.1" />
<line x1="137.20" y1="623.09" x2="143.40" y2="623.09" stroke="#111" stroke-width="1.1" />
<rect x="147.40" y="656.50" width="12.60" height="53.90" fill="#bdbdbd" stroke="#111" stroke-width="0.9"/>
<line x1="153.70" y1="649.49" x2="153.70" y2="663.50" stroke="#111" stroke-width="1.1" />
<line x1="150.60" y1="649.49" x2="156.80" y2="649.49" stroke="#111" stroke-width="1.1" />
<line x1="150.60" y1="663.50" x2="156.80" y2="663.50" stroke="#111" stroke-width="1.1" />
<rect x="174.80" y="590.80" width="12.60" height="119.60" fill="#0a0a0a" stroke="#111" stroke-width="0.9"/>
<line x1="181.10" y1="580.58" x2="181.10" y2="590.80" stroke="#111" stroke-width="1.1" />
<line x1="178.00" y1="580.58" x2="184.20" y2="580.58" stroke="#111" stroke-width="1.1" />
<line x1="178.00" y1="590.80" x2="184.20" y2="590.80" stroke="#111" stroke-width="1.1" />
<rect x="188.20" y="609.19" width="12.60" height="101.21" fill="#bdbdbd" stroke="#111" stroke-width="0.9"/>
<line x1="194.50" y1="600.72" x2="194.50" y2="617.66" stroke="#111" stroke-width="1.1" />
<line x1="191.40" y1="600.72" x2="197.60" y2="600.72" stroke="#111" stroke-width="1.1" />
<line x1="191.40" y1="617.66" x2="197.60" y2="617.66" stroke="#111" stroke-width="1.1" />
<rect x="215.30" y="602.80" width="12.60" height="107.60" fill="#0a0a0a" stroke="#111" stroke-width="0.9"/>
<line x1="221.60" y1="588.78" x2="221.60" y2="602.80" stroke="#111" stroke-width="1.1" />
<line x1="218.50" y1="588.78" x2="224.70" y2="588.78" stroke="#111" stroke-width="1.1" />
<line x1="218.50" y1="602.80" x2="224.70" y2="602.80" stroke="#111" stroke-width="1.1" />
<rect x="228.70" y="591.21" width="12.60" height="119.19" fill="#bdbdbd" stroke="#111" stroke-width="0.9"/>
<line x1="235.00" y1="583.91" x2="235.00" y2="598.51" stroke="#111" stroke-width="1.1" />
<line x1="231.90" y1="583.91" x2="238.10" y2="583.91" stroke="#111" stroke-width="1.1" />
<line x1="231.90" y1="598.51" x2="238.10" y2="598.51" stroke="#111" stroke-width="1.1" />
<text x="67.70" y="724.50" font-size="10.0" font-weight="bold" text-anchor="middle" fill="#111"  stroke="#111" stroke-width="0.45">0</text>
<text x="107.50" y="724.50" font-size="10.0" font-weight="bold" text-anchor="middle" fill="#111"  stroke="#111" stroke-width="0.45">5</text>
<text x="147.80" y="724.50" font-size="10.0" font-weight="bold" text-anchor="middle" fill="#111"  stroke="#111" stroke-width="0.45">25</text>
<text x="189.20" y="724.50" font-size="10.0" font-weight="bold" text-anchor="middle" fill="#111"  stroke="#111" stroke-width="0.45">125</text>
<text x="229.20" y="724.50" font-size="10.0" font-weight="bold" text-anchor="middle" fill="#111"  stroke="#111" stroke-width="0.45">625</text>
<text x="106.50" y="743.70" font-size="14" font-weight="bold" text-anchor="start" textLength="84.00" lengthAdjust="spacingAndGlyphs" fill="#111"  stroke="#111" stroke-width="0.63">SDF-1 ng/mL</text>
<text transform="translate(16.2,699.3) rotate(-90)" font-size="9.6" font-weight="bold" fill="#111" stroke="#111" stroke-width="0.48" textLength="100" lengthAdjust="spacingAndGlyphs">Migrated cells (x1000)</text>
<rect x="74.40" y="582.60" width="14.30" height="13.10" fill="#0a0a0a" stroke="#111" stroke-width="0.9"/>
<rect x="74.40" y="602.10" width="14.30" height="13.10" fill="#bdbdbd" stroke="#111" stroke-width="1.2"/>
<text x="95.50" y="592.00" font-size="6.9" font-weight="bold" text-anchor="start" textLength="13.40" lengthAdjust="spacingAndGlyphs" fill="#111"  stroke="#111" stroke-width="0.31">1-68</text>
<text x="95.50" y="611.10" font-size="6.9" font-weight="bold" text-anchor="start" textLength="13.40" lengthAdjust="spacingAndGlyphs" fill="#111"  stroke="#111" stroke-width="0.31">1-67</text>
</svg>
</body></html>
